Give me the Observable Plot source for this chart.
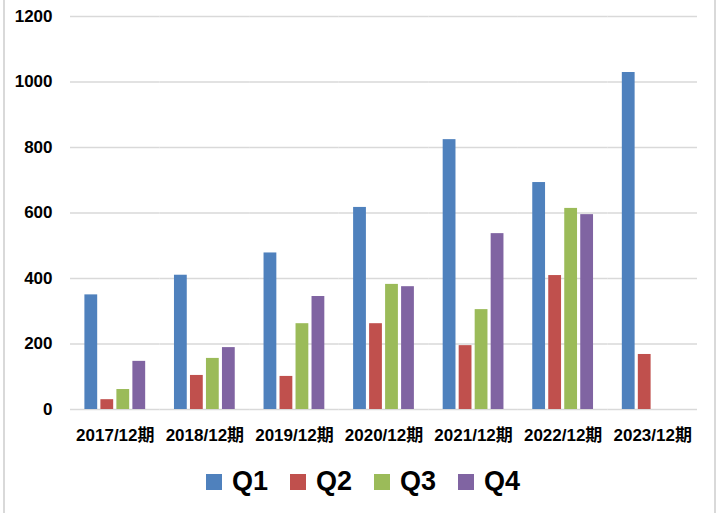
<!DOCTYPE html>
<html>
<head>
<meta charset="utf-8">
<script src="https://cdn.jsdelivr.net/npm/d3@7"></script>
<script src="https://cdn.jsdelivr.net/npm/@observablehq/plot@0.6"></script>
<style>
  html, body { margin: 0; padding: 0; background: white; }
  #wrap { position: relative; width: 720px; height: 513px; overflow: hidden; background: white;
          font-family: "Liberation Sans", Arial, "Noto Sans CJK JP", sans-serif; }
  .bl { position: absolute; top: 0; bottom: 0; width: 2px; background: #d9d9d9; }
  #legend { display: flex; justify-content: center; align-items: center; height: 63px; padding-left: 6px; }
  .item { display: flex; align-items: center; margin: 0 11px; }
  .sw { width: 16px; height: 16px; margin-right: 10px; }
  .lab { font-size: 27px; font-weight: bold; color: #000; }
</style>
</head>
<body>
<div id="wrap">
  <div class="bl" style="left:3px"></div>
  <div class="bl" style="left:714px"></div>
  <div id="chart"></div>
  <div id="legend"></div>
</div>
<script>
const years = ["2017/12期", "2018/12期", "2019/12期", "2020/12期", "2021/12期", "2022/12期", "2023/12期"];
const quarters = ["Q1", "Q2", "Q3", "Q4"];
const q1 = [350, 410, 478, 617, 824, 693, 1029];
const q2 = [30, 104, 101, 262, 195, 409, 168];
const q3 = [61, 156, 262, 382, 305, 614, null];
const q4 = [147, 189, 345, 375, 537, 595, null];
const colors = ["#4F81BD", "#C0504D", "#9BBB59", "#8064A2"];
const yTicks = [0, 200, 400, 600, 800, 1000, 1200];

const series = [q1, q2, q3, q4];
const data = [];
years.forEach((y, i) => {
  quarters.forEach((q, j) => {
    const v = series[j][i];
    if (v != null) data.push({year: y, q, v});
  });
});

const chart = Plot.plot({
  width: 720,
  height: 450,
  marginTop: 16,
  marginBottom: 41,
  marginLeft: 70,
  marginRight: 23,
  style: {
    fontFamily: '"Liberation Sans", Arial, "Noto Sans CJK JP", sans-serif',
    fontSize: "17px",
    fontWeight: "bold",
    color: "#000",
    background: "transparent"
  },
  fx: {domain: years, padding: 0, round: false, label: null},
  x: {domain: quarters, paddingInner: 0.2, paddingOuter: 0.9, round: false, axis: null},
  y: {domain: [0, 1200], label: null},
  color: {domain: quarters, range: colors},
  marks: [
    Plot.gridY(yTicks, {stroke: "#d9d9d9", strokeOpacity: 1, strokeWidth: 1.5}),
    Plot.axisY(yTicks, {tickSize: 0, tickPadding: 18, label: null, fontSize: 17, fill: "#000", tickFormat: d => String(d)}),
    Plot.axisFx({anchor: "bottom", tickSize: 0, tickPadding: 19, label: null, fontSize: 17, fill: "#000"}),
    Plot.barY(data, {fx: "year", x: "q", y: "v", fill: "q"})
  ]
});
document.getElementById("chart").appendChild(chart);

const legend = document.getElementById("legend");
quarters.forEach((q, j) => {
  const item = document.createElement("div");
  item.className = "item";
  const sw = document.createElement("div");
  sw.className = "sw";
  sw.style.background = colors[j];
  const lab = document.createElement("span");
  lab.className = "lab";
  lab.textContent = q;
  item.appendChild(sw);
  item.appendChild(lab);
  legend.appendChild(item);
});
</script>
</body>
</html>
